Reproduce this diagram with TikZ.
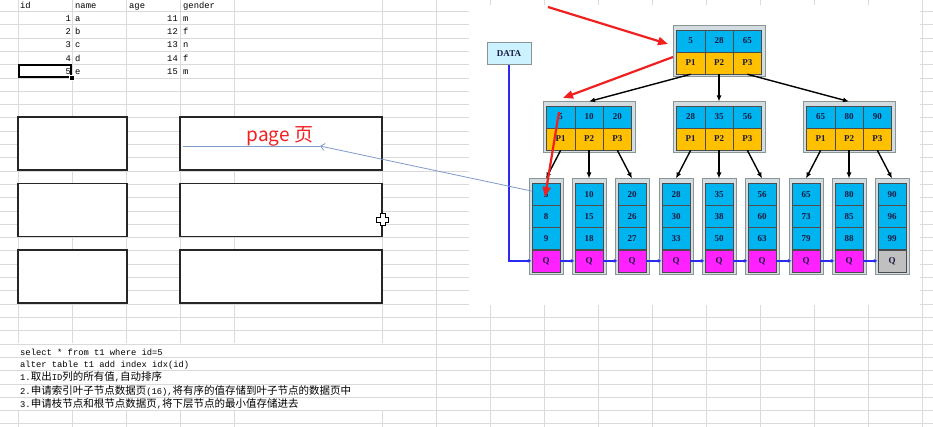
\documentclass[tikz,border=0pt]{standalone}
\usepackage{fontspec}
\setmainfont{Liberation Serif}
\newfontfamily\cellfont{Liberation Mono}
\newfontfamily\cjk{Noto Sans CJK SC}
\usetikzlibrary{arrows.meta}

\definecolor{gridgray}{HTML}{DADADA}
\definecolor{keyblue}{HTML}{00B4F0}
\definecolor{ptryellow}{HTML}{FFC000}
\definecolor{qmagenta}{HTML}{FF22FF}
\definecolor{qgray}{HTML}{C0C0C0}
\definecolor{framefill}{HTML}{D3DCE0}
\definecolor{framedraw}{HTML}{8A9696}
\definecolor{datafill}{HTML}{CCF2FF}
\definecolor{chainblue}{HTML}{2A2AF0}
\definecolor{ptrsteel}{HTML}{7F9BCB}
\definecolor{markred}{HTML}{F02020}
\definecolor{inknavy}{HTML}{1A1A40}

\newcommand{\zh}[1]{{\cjk\fontsize{10.5}{12}\selectfont #1}}
\def\rowh{13.3}
\def\cellw{28.33}

\begin{document}
\begin{tikzpicture}[x=1pt,y=-1pt]
\tikzstyle{gridline}=[draw=gridgray,line width=0.8pt]
\tikzstyle{sheettext}=[font=\cellfont\fontsize{8.8}{10}\selectfont,inner sep=0pt,anchor=base west]
\tikzstyle{pagebox}=[draw=black!85,fill=white,line width=1.1pt,inner sep=0pt,minimum height=53]
\tikzstyle{nodeframe}=[draw=framedraw,fill=framefill,line width=1pt,inner sep=0pt]
\tikzstyle{cell}=[draw=black!70,line width=0.5pt,inner sep=0pt,text=inknavy,font=\bfseries\fontsize{9}{9}\selectfont]
\tikzstyle{keycell}=[cell,fill=keyblue,minimum width=\cellw,minimum height=22]
\tikzstyle{ptrcell}=[cell,fill=ptryellow,minimum width=\cellw,minimum height=22]
\tikzstyle{leafcell}=[cell,fill=keyblue,minimum width=28,minimum height=22.25]
\tikzstyle{qcell}=[leafcell,fill=qmagenta]
\tikzstyle{lastq}=[leafcell,fill=qgray]
\tikzstyle{treearrow}=[draw=black,line width=1.4pt,-{Latex[length=6pt,width=5pt]}]
\tikzstyle{leafchain}=[draw=chainblue,line width=1.3pt,-{Latex[length=4pt,width=4pt]}]
\tikzstyle{pageptr}=[draw=ptrsteel,line width=0.8pt]
\tikzstyle{redmark}=[draw=markred,line width=2.2pt,-{Triangle[length=10pt,width=8pt]}]

% Draw the sheet grid
\fill[white] (0,0) rectangle (933,427);
\useasboundingbox (0,0) rectangle (933,427);
\foreach \k in {0,...,31}
\draw[gridline] (0,{11.5+\k*\rowh}) -- (933,{11.5+\k*\rowh});
\foreach \x in {18,72.5,126.5,180,234,382}
{\draw[gridline] (\x,0) -- (\x,343); \draw[gridline] (\x,410) -- (\x,427);}
\foreach \x in {436,490,...,922}
\draw[gridline] (\x,0) -- (\x,427);
% the pasted tree picture hides the grid
\fill[white] (469,5) rectangle (920,305);

% Draw the table
\foreach \c/\x/\t in {1/20/id,2/75/name,3/129/age,4/183/gender}
\node[sheettext] (head-\c) at (\x,8.5) {\t};
\foreach \i/\n/\a/\g in {1/a/11/m,2/b/12/f,3/c/13/n,4/d/14/f,5/e/15/m} {
\node[sheettext,anchor=base east] (id-\i) at (71,{21.3+(\i-1)*\rowh}) {\i};
\node[sheettext] (name-\i) at (75,{21.3+(\i-1)*\rowh}) {\n};
\node[sheettext,anchor=base east] (age-\i) at (178,{21.3+(\i-1)*\rowh}) {\a};
\node[sheettext] (gender-\i) at (183,{21.3+(\i-1)*\rowh}) {\g};
}
\node[draw=black,line width=2pt,minimum width=52,minimum height=12,inner sep=0pt] (sel) at (45,70.7) {};
\node[fill=black,draw=white,line width=0.6pt,minimum size=4.5pt,inner sep=0pt] (handle) at (sel.south east) {};

% Draw the pages
\foreach \r/\y in {1/143.5,2/210,3/276.5} {
\node[pagebox,minimum width=109] (pl-\r) at (72.5,\y) {};
\node[pagebox,minimum width=202] (pr-\r) at (281,\y) {};
}
\node[text=markred,font=\cjk\fontsize{19}{19}\selectfont,inner sep=0pt] (pagelabel) at (280,136) {page 页};

% mouse cursor
\draw[fill=white,line width=0.9pt,shift={(382.5,219.5)}]
(-2.5,-6) -- (2.5,-6) -- (2.5,-2.5) -- (6,-2.5) -- (6,2.5) -- (2.5,2.5) -- (2.5,6)
-- (-2.5,6) -- (-2.5,2.5) -- (-6,2.5) -- (-6,-2.5) -- (-2.5,-2.5) -- cycle;

% Draw the root node
\node[nodeframe,minimum width=92,minimum height=51] (root) at (719,51.5) {};
\foreach \j/\k in {1/5,2/28,3/65} {
\node[keycell] (root-k\j) at ({719+(\j-2)*\cellw},41) {\k};
\node[ptrcell] (root-p\j) at ({719+(\j-2)*\cellw},63) {P\j};
}

% Draw the branch nodes
\foreach \name/\x/\ka/\kb/\kc in {n1/589/5/10/20,n2/719/28/35/56,n3/849/65/80/90} {
\node[nodeframe,minimum width=92,minimum height=51] (\name) at (\x,127.5) {};
\foreach \j/\k in {1/\ka,2/\kb,3/\kc} {
\node[keycell] (\name-k\j) at ({\x+(\j-2)*\cellw},117) {\k};
\node[ptrcell] (\name-p\j) at ({\x+(\j-2)*\cellw},139) {P\j};
}
}

% Draw the leaf nodes
\foreach \i/\x/\a/\b/\c/\qs in {1/546/5/8/9/qcell,2/589/10/15/18/qcell,3/632/20/26/27/qcell,
4/676/28/30/33/qcell,5/719/35/38/50/qcell,6/762/56/60/63/qcell,
7/806/65/73/79/qcell,8/849/80/85/88/qcell,9/892/90/96/99/lastq} {
\node[nodeframe,minimum width=34,minimum height=96] (l\i) at (\x,227) {};
\node[leafcell] (l\i-k1) at (\x,194.1) {\a};
\node[leafcell] (l\i-k2) at (\x,216.4) {\b};
\node[leafcell] (l\i-k3) at (\x,238.6) {\c};
\node[\qs] (l\i-q) at (\x,260.9) {Q};
}

\node[draw=framedraw,fill=datafill,line width=1pt,minimum width=44,minimum height=22,
inner sep=0pt,text=inknavy,font=\bfseries\fontsize{9}{9}\selectfont] (data) at (509,54) {DATA};

% Connect the root with the branch nodes
\foreach \j in {1,2,3}
\draw[treearrow] (root-p\j.south) -- (n\j.north);

% Connect every branch node with its leaves
\foreach \n/\a/\b/\c in {1/1/2/3,2/4/5/6,3/7/8/9} {
\draw[treearrow] (n\n-p1.south) -- (l\a.north);
\draw[treearrow] (n\n-p2.south) -- (l\b.north);
\draw[treearrow] (n\n-p3.south) -- (l\c.north);
}

% Link the leaves
\draw[leafchain] (data.south) |- (l1-q.west);
\foreach \i/\nx in {1/2,2/3,3/4,4/5,5/6,6/7,7/8,8/9}
\draw[leafchain] (l\i-q.east) -- (l\nx-q.west);

% page pointer
\coordinate (pagetail) at (183,146);
\coordinate (pagetip) at (320,146);
\draw[pageptr] (pagetail) -- (pagetip);
\draw[pageptr,-{Straight Barb[length=4pt,width=7pt]}] (l1-k1) -- (pagetip);

% red marks
\coordinate (red1-tail) at (548,7);
\coordinate (red1-tip) at (668,44);
\coordinate (red2-tail) at (673,57);
\coordinate (red2-tip) at (563,98);
\coordinate (red3-tail) at (559,112);
\coordinate (red3-tip) at (545,197);
\foreach \m in {1,2,3}
\draw[redmark] (red\m-tail) -- (red\m-tip);

% Write the statements
\node[sheettext] (sql-1) at (20,355) {select * from t1 where id=5};
\node[sheettext] (sql-2) at (20,367.5) {alter table t1 add index idx(id)};
\node[sheettext] (step-1) at (20,380.5) {1.\zh{取出}ID\zh{列的所有值},\zh{自动排序}};
\node[sheettext] (step-2) at (20,394) {2.\zh{申请索引叶子节点数据页}(16),\zh{将有序的值存储到叶子节点的数据页中}};
\node[sheettext] (step-3) at (20,407) {3.\zh{申请枝节点和根节点数据页},\zh{将下层节点的最小值存储进去}};
\end{tikzpicture}
\end{document}
